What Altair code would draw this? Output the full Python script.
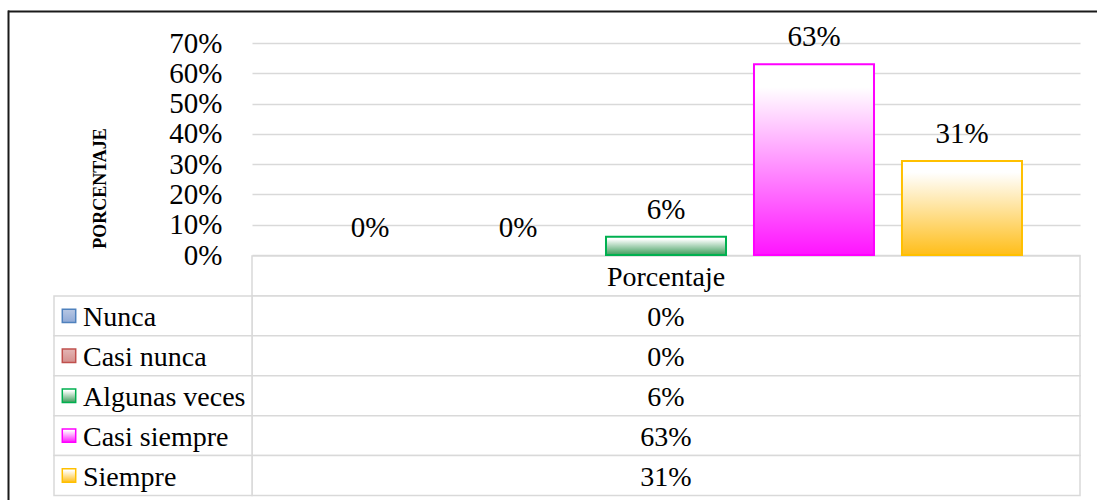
import altair as alt
import pandas as pd

# Survey answers and their share of respondents
categories = ["Nunca", "Casi nunca", "Algunas veces", "Casi siempre", "Siempre"]
values = [0.00, 0.00, 0.06, 0.63, 0.31]
y_ticks = [0.0, 0.1, 0.2, 0.3, 0.4, 0.5, 0.6, 0.7]
series_name = "Porcentaje"
axis_title = "PORCENTAJE"

# Fill (bottom colour of gradient) and outline of each series
bottom_colors = ["#8fa9d6", "#d48f8d", "#3f9d5c", "#ff14ff", "#ffbe1a"]
top_colors = ["#b3c4e2", "#e2b1b0", "#ffffff", "#ffffff", "#ffffff"]
edge_colors = ["#4f81bd", "#c0504d", "#00b050", "#ff00ff", "#ffc000"]

FONT = "'Liberation Serif', 'Times New Roman', serif"
TOTAL_W, TOTAL_H = 1097, 500
W, H = 828, 212          # plot area
PAD_L, PAD_T = 252, 43

df = pd.DataFrame({"cat": categories, "val": values})
df["label"] = [f"{round(v * 100):.0f}%" for v in values]

table = pd.DataFrame({
    "row": [series_name] + categories,
    "left": [""] + categories,
    "right": [series_name] + list(df["label"]),
    "is_data": [False] + [True] * len(categories),
})
row_order = [series_name] + categories
frame = pd.DataFrame({"k": [0]})


def grad(top, bottom):
    return alt.Gradient(
        gradient="linear", x1=0, y1=0, x2=0, y2=1,
        stops=[alt.GradientStop(color=top, offset=0),
               alt.GradientStop(color=top, offset=0.12),
               alt.GradientStop(color=bottom, offset=1)],
    )


x_scale = alt.Scale(domain=categories, paddingInner=0.189, paddingOuter=0.392)
y_scale = alt.Scale(domain=[0, 0.7], nice=False, zero=True)
y_axis = alt.Axis(
    values=y_ticks, format=".0%", grid=True, gridColor="#d9d9d9", gridWidth=1.5,
    domain=False, ticks=False, labelFont=FONT, labelFontSize=29, labelColor="#000",
    labelPadding=30, labelOverlap=False, labelBound=False, labelFlush=False,
    title=axis_title, titleFont=FONT, titleFontSize=18,
    titleFontWeight="bold", titleColor="#000", titleAngle=270,
    titleX=100 - PAD_L, titleY=188 - PAD_T, titleAlign="center", titleBaseline="middle",
)
x_enc = alt.X("cat:N", scale=x_scale, axis=None, sort=categories)
y_enc = alt.Y("val:Q", scale=y_scale, axis=y_axis)

# ---- bars, value labels and the percentage axis ----
bar_layers = []
for cat, top, bottom, edge in zip(categories, top_colors, bottom_colors, edge_colors):
    bar_layers.append(
        alt.Chart(df).transform_filter(
            (alt.datum.cat == cat) & (alt.datum.val > 0)
        ).mark_bar(fill=grad(top, bottom), stroke=edge, strokeWidth=2).encode(
            x=x_enc, y=y_enc,
        )
    )

value_labels = alt.Chart(df).mark_text(
    font=FONT, fontSize=29, color="#000", baseline="alphabetic", dy=-18,
).encode(x=x_enc, y=y_enc, text="label:N")

bars = alt.layer(*bar_layers, value_labels).resolve_scale(x="shared", y="shared")

# ---- data table underneath ----
row_scale = alt.Scale(domain=row_order, range=[213, 452.5], paddingInner=0, paddingOuter=0)
row_y = alt.Y("row:N", scale=row_scale, axis=None, sort=row_order)

right_cells = alt.Chart(table).mark_rect(
    fill="#ffffff", stroke="#d9d9d9", strokeWidth=1.5,
).encode(x=alt.value(0), x2=alt.value(W), y=row_y)

left_cells = alt.Chart(table).transform_filter(alt.datum.is_data).mark_rect(
    fill="#ffffff", stroke="#d9d9d9", strokeWidth=1.5,
).encode(x=alt.value(54 - PAD_L), x2=alt.value(0), y=row_y)

right_text = alt.Chart(table).mark_text(
    font=FONT, fontSize=28, color="#000", align="center", baseline="middle", dy=2,
).encode(x=alt.value(W / 2), y=row_y, text="right:N")

left_text = alt.Chart(table).mark_text(
    font=FONT, fontSize=28, color="#000", align="left", baseline="middle", dy=2,
).encode(x=alt.value(83 - PAD_L), y=row_y, text="left:N")

key_layers = []
for cat, top, bottom, edge in zip(categories, top_colors, bottom_colors, edge_colors):
    key_layers.append(
        alt.Chart(table).transform_filter(alt.datum.row == cat).mark_square(
            fill=grad(top, bottom), stroke=edge, strokeWidth=1.5, size=180, opacity=1,
        ).encode(x=alt.value(69 - PAD_L), y=row_y)
    )

data_table = alt.layer(
    right_cells, left_cells, right_text, left_text, *key_layers
).resolve_scale(y="shared")

# ---- chart frame: top and left edges only ----
frame_top = alt.Chart(frame).mark_rule(color="#1a1a1a", strokeWidth=2).encode(
    x=alt.value(8 - PAD_L), x2=alt.value(TOTAL_W - PAD_L),
    y=alt.value(11.5 - PAD_T),
)
frame_left = alt.Chart(frame).mark_rule(color="#1a1a1a", strokeWidth=2).encode(
    x=alt.value(8.5 - PAD_L),
    y=alt.value(10.5 - PAD_T), y2=alt.value(TOTAL_H - PAD_T),
)

chart = alt.layer(data_table, bars, frame_top, frame_left).resolve_scale(
    x="independent", y="independent"
).properties(
    width=W, height=H,
    autosize=alt.AutoSizeParams(type="none"),
    padding={"left": PAD_L, "top": PAD_T, "right": TOTAL_W - PAD_L - W,
             "bottom": TOTAL_H - PAD_T - H},
    background="#ffffff",
).configure_view(stroke=None, clip=False)

chart.save("out.html", embed_options={"renderer": "svg", "actions": False})
